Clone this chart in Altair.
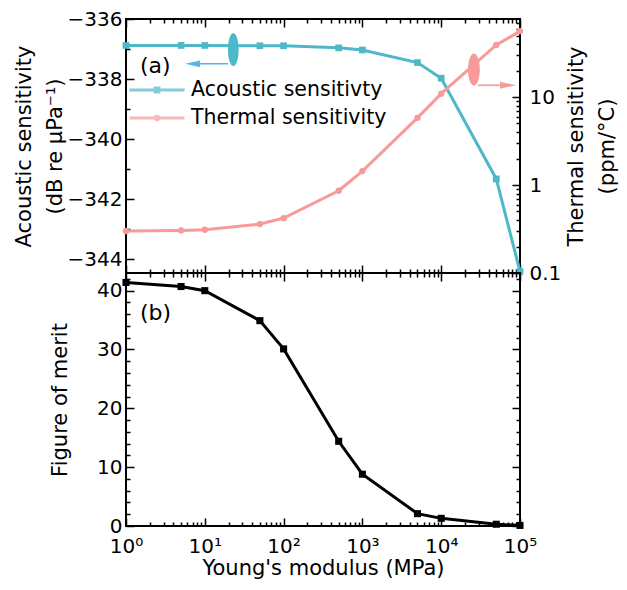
import json
import altair as alt
import pandas as pd

# ---------------- data ----------------
modulus = [1, 5, 10, 50, 100, 500, 1000, 5000, 10000, 50000, 100000]
acoustic = [-336.88, -336.88, -336.88, -336.89, -336.89, -336.96, -337.03,
            -337.45, -337.97, -341.32, -344.4]
thermal = [0.30, 0.305, 0.31, 0.36, 0.42, 0.86, 1.44, 5.8, 10.9, 39.0, 56.0]
fom = [41.4, 40.7, 40.0, 34.9, 30.1, 14.4, 8.8, 2.1, 1.3, 0.3, 0.1]

series_names = ["Acoustic sensitivty", "Thermal sensitivity"]
series_colors = ["#4cb8c8", "#f79a9a"]
arrow_blue = "#5cb4e6"

# annotation positions (data coordinates)
ell_a_x, ell_a_y = [23.0], [-337.02]
arr_a_x, arr_a_x2, arr_a_y = [19.7], [7.0], [-337.49]
ell_t_x, ell_t_y = [26000.0], [20.6]
arr_t_x, arr_t_x2, arr_t_y = [29300.0], [70400.0], [13.6]
panel_labels = ["(a)", "(b)"]
panel_label_x = [1.5, 1.5]
panel_label_y = [-337.55, 36.2]

# tick lists
x_major = [1, 10, 100, 1000, 10000, 100000]
x_minor = [m * 10 ** e for e in range(5) for m in range(2, 10)]
x_ticks = sorted(x_major + x_minor)
x_tick_text = ["10⁰", "10¹", "10²", "10³", "10⁴", "10⁵"]
acoustic_ticks = [-344, -343, -342, -341, -340, -339, -338, -337, -336]
thermal_ticks = [0.1, 0.2, 0.3, 0.4, 0.5, 0.6, 0.7, 0.8, 0.9,
                 1, 2, 3, 4, 5, 6, 7, 8, 9,
                 10, 20, 30, 40, 50, 60, 70]
fom_ticks = [0, 2, 4, 6, 8, 10, 12, 14, 16, 18, 20, 22, 24, 26, 28, 30,
             32, 34, 36, 38, 40, 42]

FONT = "DejaVu Sans"
MAJ, MIN = -8, -4

df = pd.DataFrame({"E": modulus, "acoustic": acoustic, "thermal": thermal, "fom": fom})

LOGMAJ = "abs(log(datum.value)/LN10 - round(log(datum.value)/LN10)) < 0.000001"


def tsize(test):
    return {"condition": {"test": test, "value": MAJ}, "value": MIN}


xs = alt.Scale(type="log", domain=[1, 100000], nice=False)
ys_a = alt.Scale(domain=[-344.45, -336], nice=False, zero=False)
ys_t = alt.Scale(type="log", domain=[0.1, 77], nice=False)
ys_f = alt.Scale(domain=[0, 43], nice=False, zero=False)


def x_axis(orient, labels):
    kw = dict(orient=orient, values=x_ticks, tickSize=tsize(LOGMAJ), title=None)
    if labels:
        kw.update(
            labelExpr="(" + LOGMAJ + ") ? " + json.dumps(x_tick_text, ensure_ascii=False)
            + "[round(log(datum.value)/LN10)] : ''",
            labelPadding=18,
            title="Young's modulus (MPa)",
            titlePadding=-3,
        )
    else:
        kw.update(labels=False)
    return alt.Axis(**kw)


ax_a = alt.Axis(orient="left", values=acoustic_ticks, tickSize=tsize("datum.value % 2 == 0"),
                labelExpr="datum.value % 2 == 0 ? format(datum.value, 'd') : ''",
                labelPadding=12, title=["Acoustic sensitivity", "(dB re μPa⁻¹)"],
                titleLineHeight=31, titlePadding=2)
ax_t = alt.Axis(orient="right", values=thermal_ticks, tickSize=tsize(LOGMAJ),
                labelExpr="(" + LOGMAJ + ") ? (datum.value < 1 ? '0.1' : format(datum.value, 'd')) : ''",
                labelPadding=17, title=["Thermal sensitivity", "(ppm/°C)"],
                titleAngle=270, titleLineHeight=31, titlePadding=-5)
ax_f = alt.Axis(orient="left", values=fom_ticks, tickSize=tsize("datum.value % 10 == 0"),
                labelExpr="datum.value % 10 == 0 ? format(datum.value, 'd') : ''",
                labelPadding=12, title="Figure of merit", titlePadding=26)
ax_f_r = alt.Axis(orient="right", values=fom_ticks, tickSize=tsize("datum.value % 10 == 0"),
                  labels=False, title=None)

ELLIPSE_A = "M0,-1A0.33,1 0 1,1 0,1A0.33,1 0 1,1 0,-1Z"
ELLIPSE_T = "M0,-1A0.37,1 0 1,1 0,1A0.37,1 0 1,1 0,-1Z"
HEAD_LEFT = "M-1,0L1,-0.45L1,0.45Z"
HEAD_RIGHT = "M1,0L-1,-0.45L-1,0.45Z"
SYM_A = "M-1,0H1M-0.07,-0.07H0.07V0.07H-0.07Z"
SYM_T = "M-1,0H1M-0.06,0A0.06,0.06 0 1,0 0.06,0A0.06,0.06 0 1,0 -0.06,0Z"

# ---------- top panel ----------
line_a = alt.Chart(df).mark_line(
    color=series_colors[0], strokeWidth=3,
    point=alt.OverlayMarkDef(shape="square", filled=True, color=series_colors[0], size=45),
).encode(
    x=alt.X("E:Q", scale=xs, axis=x_axis("bottom", False)),
    y=alt.Y("acoustic:Q", scale=ys_a, axis=ax_a),
)
line_t = alt.Chart(df).mark_line(
    color=series_colors[1], strokeWidth=3,
    point=alt.OverlayMarkDef(shape="circle", filled=True, color=series_colors[1], size=40),
).encode(
    x=alt.X("E:Q", scale=xs, axis=x_axis("top", False)),
    y=alt.Y("thermal:Q", scale=ys_t, axis=ax_t),
)

ell_a = alt.Chart(pd.DataFrame({"x": ell_a_x, "y": ell_a_y})).mark_point(
    shape=ELLIPSE_A, filled=True, size=1063, color=series_colors[0], opacity=1
).encode(x=alt.X("x:Q", scale=xs, axis=None), y=alt.Y("y:Q", scale=ys_a, axis=None))
arr_a_df = pd.DataFrame({"x": arr_a_x, "x2": arr_a_x2, "y": arr_a_y})
rule_a = alt.Chart(arr_a_df).mark_rule(color=arrow_blue, strokeWidth=1.6).encode(
    x=alt.X("x:Q", scale=xs, axis=None), x2="x2:Q", y=alt.Y("y:Q", scale=ys_a, axis=None))
head_a = alt.Chart(arr_a_df).mark_point(shape=HEAD_LEFT, filled=True, size=225,
                                        color=arrow_blue, opacity=1).encode(
    x=alt.X("x2:Q", scale=xs, axis=None), y=alt.Y("y:Q", scale=ys_a, axis=None))

txt_df = pd.DataFrame({"label": panel_labels, "x": panel_label_x, "y": panel_label_y})
text_a = alt.Chart(txt_df.iloc[[0]]).mark_text(
    align="left", baseline="middle", fontSize=22, font=FONT, color="black"
).encode(x=alt.X("x:Q", scale=xs, axis=None), y=alt.Y("y:Q", scale=ys_a, axis=None),
         text="label:N")

ell_t = alt.Chart(pd.DataFrame({"x": ell_t_x, "y": ell_t_y})).mark_point(
    shape=ELLIPSE_T, filled=True, size=1024, color=series_colors[1], opacity=1
).encode(x=alt.X("x:Q", scale=xs, axis=None), y=alt.Y("y:Q", scale=ys_t, axis=None))
arr_t_df = pd.DataFrame({"x": arr_t_x, "x2": arr_t_x2, "y": arr_t_y})
rule_t = alt.Chart(arr_t_df).mark_rule(color=series_colors[1], strokeWidth=1.6).encode(
    x=alt.X("x:Q", scale=xs, axis=None), x2="x2:Q", y=alt.Y("y:Q", scale=ys_t, axis=None))
head_t = alt.Chart(arr_t_df).mark_point(shape=HEAD_RIGHT, filled=True, size=256,
                                        color=series_colors[1], opacity=1).encode(
    x=alt.X("x2:Q", scale=xs, axis=None), y=alt.Y("y:Q", scale=ys_t, axis=None))

leg = alt.Legend(orient="none", legendX=0, legendY=57, title=None, symbolSize=3025,
                 symbolStrokeWidth=3, clipHeight=28, labelFontSize=20.5, labelFont=FONT,
                 labelColor="black", labelOffset=5, padding=0, rowPadding=0,
                 symbolOffset=2, labelLimit=400)
legend_layer = alt.Chart(pd.DataFrame({"series": series_names})).mark_point(
    filled=False, strokeWidth=3
).encode(
    color=alt.Color("series:N", scale=alt.Scale(domain=series_names, range=series_colors), legend=leg),
    shape=alt.Shape("series:N", scale=alt.Scale(domain=series_names, range=[SYM_A, SYM_T]), legend=leg),
).transform_filter("false")

top = alt.layer(line_a, line_t, ell_a, rule_a, head_a, text_a, ell_t, rule_t, head_t,
                legend_layer).resolve_scale(y="independent").resolve_axis(
    x="independent", y="independent").properties(width=394, height=254)

# ---------- bottom panel ----------
line_f = alt.Chart(df).mark_line(
    color="black", strokeWidth=3,
    point=alt.OverlayMarkDef(shape="square", filled=True, color="black", size=50),
).encode(
    x=alt.X("E:Q", scale=xs, axis=x_axis("bottom", True)),
    y=alt.Y("fom:Q", scale=ys_f, axis=ax_f),
)
text_b = alt.Chart(txt_df.iloc[[1]]).mark_text(
    align="left", baseline="middle", fontSize=22, font=FONT, color="black"
).encode(x=alt.X("x:Q", scale=xs, axis=x_axis("top", False)),
         y=alt.Y("y:Q", scale=ys_f, axis=ax_f_r), text="label:N")

bottom = alt.layer(line_f, text_b).resolve_axis(x="independent", y="independent").properties(
    width=394, height=253)

chart = alt.vconcat(top, bottom, spacing=0, bounds="flush").properties(
    padding={"left": 4, "top": 0, "right": 0, "bottom": 0}
).configure(font=FONT).configure_view(stroke="black", strokeWidth=2).configure_axis(
    grid=False, domain=False, tickColor="black", tickWidth=1.5, labelFont=FONT,
    labelFontSize=20, labelColor="black", titleFont=FONT, titleFontSize=21,
    titleFontWeight="normal", titleColor="black", labelOverlap=False, labelFlush=False,
)

chart.save("out.html", embed_options={"renderer": "svg", "actions": False})
